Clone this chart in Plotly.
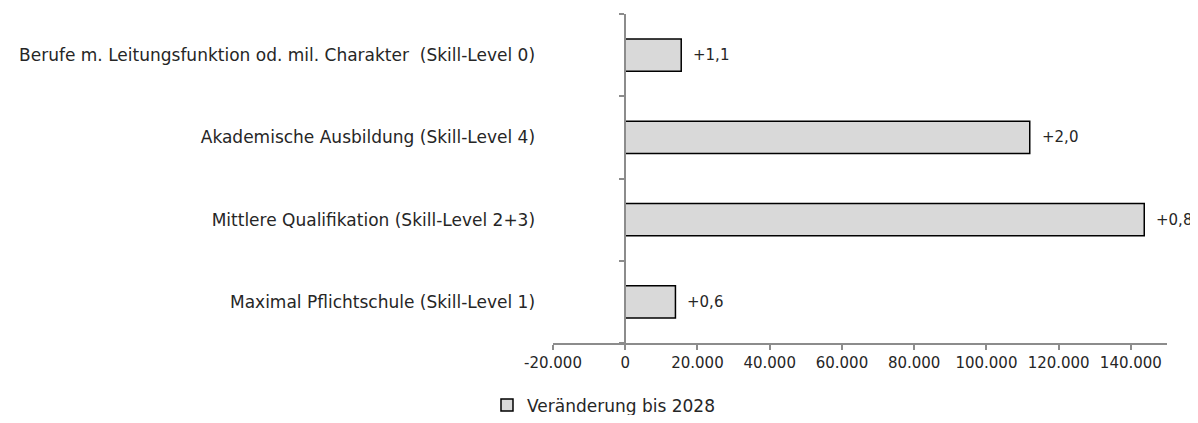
import plotly.graph_objects as go

categories = [
    "Maximal Pflichtschule (Skill-Level 1)",
    "Mittlere Qualifikation (Skill-Level 2+3)",
    "Akademische Ausbildung (Skill-Level 4)",
    "Berufe m. Leitungsfunktion od. mil. Charakter  (Skill-Level 0)",
]
values = [13900, 143700, 112000, 15500]
labels = ["+0,6", "+0,8", "+2,0", "+1,1"]
tick_vals = [-20000, 0, 20000, 40000, 60000, 80000, 100000, 120000, 140000]
tick_text = ["-20.000", "0", "20.000", "40.000", "60.000", "80.000", "100.000", "120.000", "140.000"]
series_name = "Veränderung bis 2028"

FONT = "DejaVu Sans"
FS = 15
FS_CAT = 17
TXT = "#262626"
AX = "#8c8c8c"

fig = go.Figure()
fig.add_trace(go.Bar(
    y=categories, x=values, orientation="h", name=series_name,
    marker=dict(color="#d9d9d9", line=dict(color="#000000", width=1.5)),
    width=0.39, showlegend=True, hoverinfo="skip",
))

for c, v, t in zip(categories, values, labels):
    fig.add_annotation(x=v, y=c, text=t, showarrow=False, xanchor="left",
                       xshift=10, font=dict(family=FONT, size=FS, color=TXT))

# page body has an 8px default margin -> figure is drawn offset by 8px
W, H = 1190, 407
L, R, T, B = 545, 31, 6, 72
pos0 = (0 - (-20000)) / (150000 - (-20000))

fig.update_layout(
    width=W, height=H,
    margin=dict(l=L, r=R, t=T, b=B, autoexpand=False),
    paper_bgcolor="white", plot_bgcolor="white",
    font=dict(family=FONT, size=FS, color=TXT),
    xaxis=dict(range=[-20000, 150000], tickvals=tick_vals, ticktext=tick_text,
               showgrid=False, zeroline=False, showline=True, linecolor=AX, linewidth=1.5,
               ticks="outside", ticklen=5, tickcolor=AX, tickwidth=1.5,
               tickfont=dict(family=FONT, size=FS, color=TXT), fixedrange=True),
    yaxis=dict(categoryorder="array", categoryarray=categories,
               anchor="free", position=pos0,
               showgrid=False, zeroline=False, showline=True, linecolor=AX, linewidth=1.5,
               ticks="outside", ticklen=5, tickcolor=AX, tickwidth=1.5, tickson="boundaries",
               ticklabelstandoff=86,
               tickfont=dict(family=FONT, size=FS_CAT, color=TXT), fixedrange=True),
    legend=dict(orientation="h", x=-0.1075, xanchor="left", y=-0.19, yanchor="middle",
                font=dict(family=FONT, size=FS_CAT, color=TXT), itemwidth=30),
    showlegend=True,
)

fig.write_html("out.html")
